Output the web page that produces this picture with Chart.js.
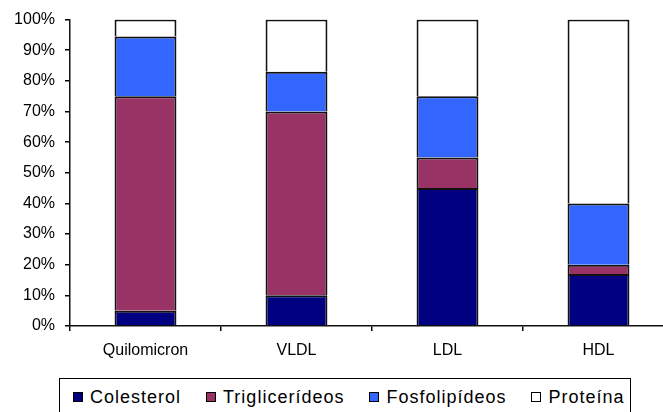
<!DOCTYPE html>
<html>
<head>
<meta charset="utf-8">
<script src="https://cdn.jsdelivr.net/npm/chart.js@4.4.1/dist/chart.umd.min.js"></script>
<style>
  html, body { margin: 0; padding: 0; background: #fff; overflow: hidden; width: 663px; height: 412px; }
  #wrap { position: relative; width: 663px; height: 412px; overflow: hidden; }
  canvas { position: absolute; left: 0; top: 0; }
  #legend {
    position: absolute; left: 59px; top: 378px; width: 572px; height: 60px;
    border: 1px solid #000; box-sizing: border-box; background: #fff;
    display: flex; align-items: flex-start; padding-left: 13px; padding-top: 8px;
    font-family: "Liberation Sans", Arial, sans-serif; font-size: 18px; letter-spacing: 1px; color: #000;
  }
  .item { display: flex; align-items: center; margin-right: 25px; white-space: nowrap; line-height: 20px; }
  .mk { width: 10px; height: 10px; border: 1px solid #000; box-sizing: border-box; margin-right: 7px; flex: none; }
</style>
</head>
<body>
<div id="wrap">
  <canvas id="c" width="675" height="412"></canvas>
  <div id="legend"></div>
</div>
<script>
const categories = ["Quilomicron", "VLDL", "LDL", "HDL"];
const seriesNames = ["Colesterol", "Triglicerídeos", "Fosfolipídeos", "Proteína"];
const colesterol = [5, 10, 45, 17];
const trigliceridos = [70, 60, 10, 3];
const fosfolipideos = [19.5, 13, 20, 20];
const proteina = [5.5, 17, 25, 60];
const yTicks = [0, 10, 20, 30, 40, 50, 60, 70, 80, 90, 100];
const colors = ["#000080", "#993366", "#3366FF", "#FFFFFF"];

const seriesValues = [colesterol, trigliceridos, fosfolipideos, proteina];
const FONT = { family: "'Liberation Sans', Arial, sans-serif", size: 16 };

const chart = new Chart(document.getElementById("c"), {
  type: "bar",
  data: {
    labels: categories,
    datasets: seriesValues.map((vals, i) => ({
      label: seriesNames[i],
      data: vals,
      backgroundColor: colors[i],
      borderColor: "#111",
      borderWidth: 2,
      borderSkipped: "start",
      barPercentage: 0.41,
      categoryPercentage: 1.0
    }))
  },
  options: {
    responsive: false,
    animation: false,
    devicePixelRatio: 1,
    layout: { padding: { top: 18, right: 1, left: 0, bottom: 46 } },
    plugins: { legend: { display: false }, tooltip: { enabled: false } },
    scales: {
      x: {
        stacked: true,
        offset: true,
        grid: { display: true, drawOnChartArea: false, offset: true, tickLength: 5, color: "#000", tickColor: "#000", lineWidth: 1.5 },
        border: { display: true, color: "#111", width: 1.5 },
        ticks: { color: "#000", font: FONT, padding: 10, maxRotation: 0 },
        afterFit: (s) => { s.height = 40; }
      },
      y: {
        stacked: true,
        min: 0,
        max: 100,
        afterBuildTicks: (s) => { s.ticks = yTicks.map(v => ({ value: v })); },
        grid: { display: true, drawOnChartArea: false, tickLength: 5, color: "#000", tickColor: "#000", lineWidth: 1.5 },
        border: { display: true, color: "#111", width: 1.5 },
        ticks: { color: "#000", font: FONT, padding: 10, callback: (v) => v + "%" },
        afterFit: (s) => { s.width = 70; }
      }
    }
  }
});

const legend = document.getElementById("legend");
chart.data.datasets.forEach(ds => {
  const item = document.createElement("div");
  item.className = "item";
  const mk = document.createElement("span");
  mk.className = "mk";
  mk.style.background = ds.backgroundColor;
  const tx = document.createElement("span");
  tx.textContent = ds.label;
  item.appendChild(mk);
  item.appendChild(tx);
  legend.appendChild(item);
});
</script>
</body>
</html>
